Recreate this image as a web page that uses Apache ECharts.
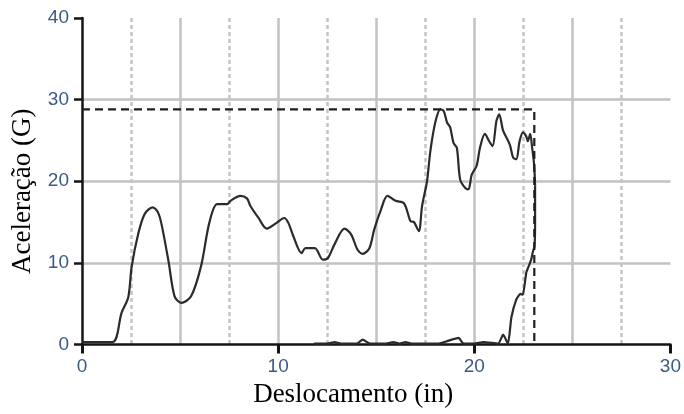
<!DOCTYPE html>
<html>
<head>
<meta charset="utf-8">
<script src="https://cdn.jsdelivr.net/npm/echarts@6/dist/echarts.min.js"></script>
<style>
  html, body { margin: 0; padding: 0; background: #fff; }
  #chart { width: 684px; height: 414px; }
</style>
</head>
<body>
<div id="chart"></div>
<script>
// ---- data ----
const xAxisTitle = 'Deslocamento (in)';
const yAxisTitle = 'Aceleração (G)';

// main acceleration trace
const mainX = [0, 1.55, 2.02, 2.36, 2.53, 2.87, 3.2, 3.6, 3.85, 4.04, 4.41, 4.72, 5.06, 5.56, 6.07, 6.49, 6.89, 7.40, 7.57, 8.07, 8.41, 8.58, 9.0, 9.42, 9.92, 10.31, 10.52, 10.77, 11.19, 11.39, 11.87, 12.28, 12.54, 12.88, 13.38, 13.72, 14.05, 14.31, 14.65, 14.90, 15.24, 15.57, 15.99, 16.42, 16.75, 16.92, 17.17, 17.34, 17.59, 17.76, 18.01, 18.27, 18.44, 18.61, 18.77, 18.94, 19.11, 19.28, 19.53, 19.70, 19.87, 20.12, 20.29, 20.54, 20.76, 20.93, 21.13, 21.27, 21.47, 21.81, 21.98, 22.14, 22.31, 22.48, 22.65, 22.73, 22.85, 22.95, 23.05, 23.1];
const mainY = [0.3, 0.3, 3.9, 5.8, 9.5, 13.6, 16.0, 16.8, 16.3, 14.9, 10.2, 5.9, 5.1, 5.9, 9.6, 14.9, 17.2, 17.2, 17.6, 18.2, 17.9, 17.0, 15.5, 14.2, 14.9, 15.5, 14.9, 13.3, 11.2, 11.8, 11.8, 10.4, 10.6, 12.3, 14.2, 13.5, 11.6, 11.1, 11.8, 14.1, 16.5, 18.2, 17.6, 17.3, 15.1, 15.0, 13.9, 17.0, 20.0, 23.7, 27.2, 28.8, 28.6, 27.2, 26.6, 24.7, 24.1, 20.2, 19.2, 19.0, 20.8, 21.9, 24.1, 25.8, 24.9, 24.3, 27.4, 28.2, 26.2, 24.5, 22.9, 22.7, 24.9, 26.0, 25.5, 24.9, 25.8, 24.1, 22.0, 19.5];

// secondary trace (near zero, then rising at the end)
const secX = [11.83, 12.5, 12.88, 13.2, 14.0, 14.31, 14.7, 15.5, 15.87, 16.2, 16.5, 16.8, 18.2, 18.6, 19.2, 19.45, 20.0, 20.46, 21.22, 21.47, 21.72, 21.89, 22.14, 22.35, 22.48, 22.65, 22.81, 22.90, 22.99, 23.07, 23.1, 23.1];
const secY = [0.1, 0.1, 0.3, 0.1, 0.1, 0.6, 0.1, 0.1, 0.3, 0.1, 0.3, 0.1, 0.1, 0.4, 0.8, 0.1, 0.1, 0.3, 0.1, 1.2, 0.1, 3.3, 5.5, 6.2, 6.1, 8.8, 9.8, 10.4, 11.4, 12.0, 15.0, 19.5];

// dashed limit envelope
const limitX = [0, 23.06, 23.06];
const limitY = [28.8, 28.8, 0.4];

const zip = (xs, ys) => xs.map((x, i) => [x, ys[i]]);

const labelColor = '#3a5a88';
const chart = echarts.init(document.getElementById('chart'), null, { renderer: 'canvas' });

chart.setOption({
  animation: false,
  backgroundColor: '#ffffff',
  grid: { left: 82, right: 7.3, top: 18, bottom: 69.5, containLabel: false },
  xAxis: [
    {
      type: 'value', min: 0, max: 30, interval: 10, position: 'bottom',
      name: xAxisTitle, nameLocation: 'middle', nameGap: 36,
      nameTextStyle: { fontFamily: 'Liberation Serif', fontSize: 27, color: '#000', padding: [0, 46, 0, 0] },
      axisLine: { show: true, onZero: false, lineStyle: { color: '#151515', width: 2.5 } },
      axisTick: { show: true, inside: false, length: 9, lineStyle: { color: '#151515', width: 3 } },
      axisLabel: { margin: 13, color: labelColor, fontSize: 19, fontFamily: 'Liberation Sans' },
      splitLine: { show: false }
    },
    {
      type: 'value', min: 0, max: 30, interval: 5, position: 'top',
      axisLine: { show: false }, axisTick: { show: false }, axisLabel: { show: false },
      splitLine: { show: true, showMinLine: false, showMaxLine: false, lineStyle: { color: '#c2c2c4', width: 2.5 } },
      minorTick: { show: false, splitNumber: 2 },
      minorSplitLine: { show: true, lineStyle: { color: '#c4c4c6', width: 2.5, type: [4, 3] } }
    }
  ],
  yAxis: {
    type: 'value', min: 0, max: 40, interval: 10,
    name: yAxisTitle, nameLocation: 'middle', nameGap: 46,
    nameTextStyle: { fontFamily: 'Liberation Serif', fontSize: 27, color: '#000', padding: [0, 20, 0, 0] },
    axisLine: { show: true, onZero: false, lineStyle: { color: '#151515', width: 2.5 } },
    axisTick: { show: true, inside: false, length: 8, lineStyle: { color: '#151515', width: 2.5 } },
    axisLabel: { margin: 13, color: labelColor, fontSize: 19, fontFamily: 'Liberation Sans' },
    splitLine: { show: true, showMinLine: false, showMaxLine: false, lineStyle: { color: '#c2c2c4', width: 2.5 } }
  },
  series: [
    {
      type: 'line', xAxisIndex: 0, data: zip(mainX, mainY), smooth: 0.3, showSymbol: false,
      lineStyle: { color: '#2b2b2b', width: 2.2 }, z: 3
    },
    {
      type: 'line', xAxisIndex: 0, data: zip(secX, secY), smooth: 0.15, showSymbol: false,
      lineStyle: { color: '#2b2b2b', width: 2.2 }, z: 3
    },
    {
      type: 'line', xAxisIndex: 0, data: zip(limitX, limitY), smooth: false, showSymbol: false,
      lineStyle: { color: '#1e1e1e', width: 2.2, type: [8, 5] }, z: 4
    }
  ]
});
</script>
</body>
</html>
